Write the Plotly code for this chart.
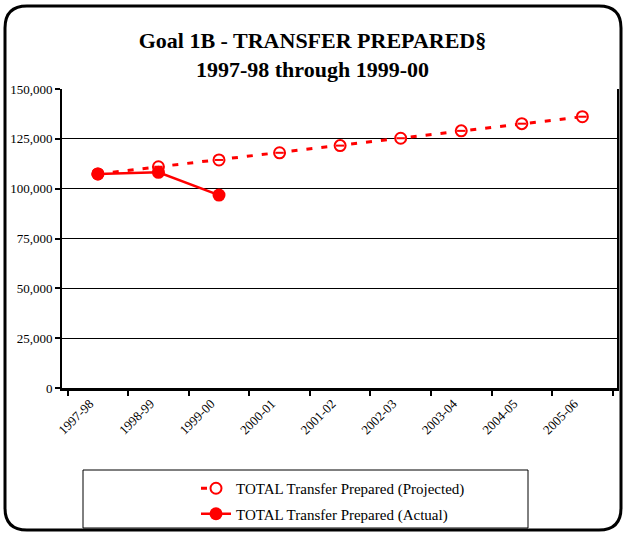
import plotly.graph_objects as go

years = ["1997-98", "1998-99", "1999-00", "2000-01", "2001-02",
         "2002-03", "2003-04", "2004-05", "2005-06"]
projected = [107400, 111000, 114400, 118000, 121600, 125300, 129000, 132600, 136100]
actual_years = ["1997-98", "1998-99", "1999-00"]
actual = [107400, 108200, 96800]

W, H = 625, 533
L, R, T, B = 62, 8, 89, 145
pw, ph = W - L - R, H - T - B

def px(x):
    return (x - L) / pw

def py(y):
    return (H - B - y) / ph

font = "Liberation Serif, Times New Roman, serif"
red = "#ff0000"

fig = go.Figure()
fig.add_trace(go.Scatter(x=years, y=projected, mode="lines+markers",
                         name="TOTAL Transfer Prepared (Projected)", legendgroup="p",
                         line=dict(color=red, width=3, dash="6px,9px"),
                         marker=dict(symbol="circle", size=11, color="white",
                                     line=dict(color=red, width=2))))
fig.add_trace(go.Scatter(x=years, y=projected, mode="markers", showlegend=False,
                         hoverinfo="skip",
                         marker=dict(symbol="line-ew", size=6,
                                     line=dict(color=red, width=2))))
fig.add_trace(go.Scatter(x=actual_years, y=actual, mode="lines+markers",
                         name="TOTAL Transfer Prepared (Actual)", legendgroup="a",
                         line=dict(color=red, width=2.5),
                         marker=dict(symbol="circle", size=13, color=red)))

# outer rounded frame and legend box
x0, x1, y0, y1, r = 5, 621, 6, 530, 22
rx, ry = r / pw, r / ph
path = (f"M{px(x0)+rx},{py(y0)} L{px(x1)-rx},{py(y0)} Q{px(x1)},{py(y0)} {px(x1)},{py(y0)-ry} "
        f"L{px(x1)},{py(y1)+ry} Q{px(x1)},{py(y1)} {px(x1)-rx},{py(y1)} "
        f"L{px(x0)+rx},{py(y1)} Q{px(x0)},{py(y1)} {px(x0)},{py(y1)+ry} "
        f"L{px(x0)},{py(y0)-ry} Q{px(x0)},{py(y0)} {px(x0)+rx},{py(y0)} Z")
shapes = [
    dict(type="path", xref="paper", yref="paper", path=path,
         line=dict(color="black", width=3)),
    dict(type="rect", xref="paper", yref="paper", x0=px(83), x1=px(528), y0=py(528), y1=py(470),
         line=dict(color="black", width=1)),
]

fig.update_layout(
    width=W, height=H,
    margin=dict(l=L, r=R, t=T, b=B, autoexpand=False),
    paper_bgcolor="white", plot_bgcolor="white",
    font=dict(family=font, size=13, color="black"),
    title=dict(text="<b>Goal 1B - TRANSFER PREPARED§<br>1997-98 through 1999-00</b>",
               x=0.5, xanchor="center", y=0.91, yanchor="top",
               font=dict(family=font, size=22, color="black")),
    xaxis=dict(type="category", categoryorder="array", categoryarray=years,
               showgrid=False, showline=True, linecolor="black", linewidth=3,
               ticks="outside", tickson="boundaries", ticklen=5, tickcolor="black",
               tickwidth=2, tickangle=-45, tickfont=dict(size=13), automargin=False,
               ticklabelshift=-8),
    yaxis=dict(range=[0, 150000], dtick=25000, tickformat=",d",
               showgrid=True, gridcolor="black", gridwidth=1,
               showline=True, linecolor="black", linewidth=2, mirror=True,
               ticks="outside", ticklen=5, tickcolor="black", tickwidth=2,
               zeroline=False, tickfont=dict(size=13), automargin=False),
    legend=dict(x=px(196), y=py(472), xanchor="left", yanchor="top",
                font=dict(family=font, size=15), tracegroupgap=3,
                bgcolor="rgba(0,0,0,0)", borderwidth=0),
    shapes=shapes,
    showlegend=True,
)

fig.write_html("out.html", config={"displayModeBar": False},
               post_script="document.body.style.margin='0';")
